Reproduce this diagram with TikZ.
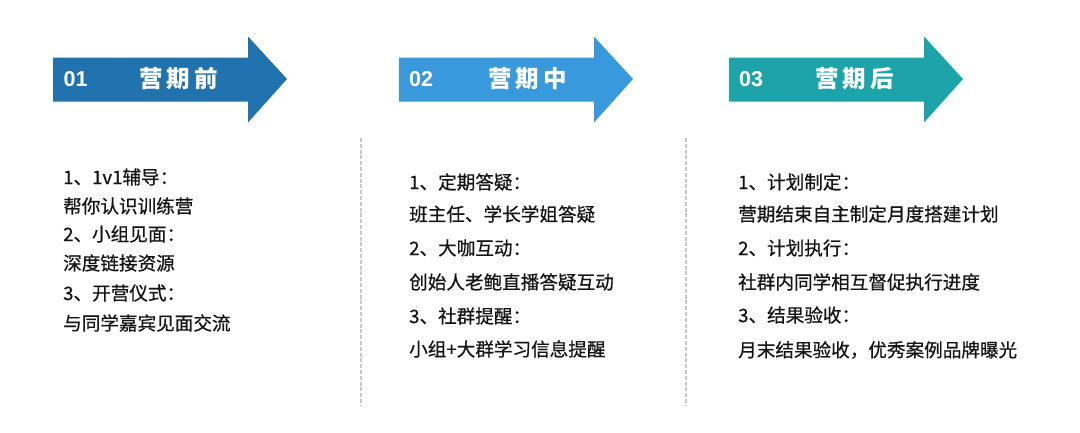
\documentclass[tikz,border=0pt]{standalone}
\usepackage{fontspec}
\setmainfont{Liberation Sans}
\newfontfamily\cjk{Noto Sans CJK SC}
\newfontfamily\cjkfb[FakeBold=0.6]{Noto Sans CJK SC}
\definecolor{cA}{RGB}{33,115,175}
\definecolor{cB}{RGB}{56,153,220}
\definecolor{cC}{RGB}{29,164,170}
\definecolor{txt}{RGB}{20,20,20}
\definecolor{sep}{RGB}{200,200,200}
\tikzset{
  numtxt/.style={font=\fontsize{21.5}{21.5}\selectfont\bfseries, text=white, inner sep=0pt, anchor=west},
  headtxt/.style={font=\cjk\fontsize{23.5}{23.5}\selectfont\bfseries, text=white, inner sep=0pt, anchor=west},
  bodytxt/.style={font=\cjkfb\fontsize{18.6}{18.6}\selectfont, text=txt, inner sep=0pt, anchor=west},
  sepline/.style={draw=sep, line width=1.6pt, dash pattern=on 4pt off 1.8pt}
}
\newcommand{\bigarrow}[3]{%
  \fill[#3] (#1,#2-21.5) -- (#1+195,#2-21.5) -- (#1+195,#2-42.5) -- (#1+234,#2) -- (#1+195,#2+43.5) -- (#1+195,#2+22.5) -- (#1,#2+22.5) -- cycle;}
\begin{document}
\begin{tikzpicture}[x=1pt,y=-1pt]
\useasboundingbox (0,0) rectangle (1080,432);
\fill[white] (0,0) rectangle (1080,432);
% arrows
\bigarrow{53}{79}{cA}
\bigarrow{399}{79}{cB}
\bigarrow{729}{79}{cC}
\node[numtxt] (n1) at (63.5,79) {01};
\node[headtxt] (h1) at (139,79) {营\hspace{4pt}期\hspace{4pt}前};
\node[numtxt] (n2) at (409,79) {02};
\node[headtxt] (h2) at (488,79) {营\hspace{4pt}期\hspace{4pt}中};
\node[numtxt] (n3) at (739,79) {03};
\node[headtxt] (h3) at (815,79) {营\hspace{4pt}期\hspace{4pt}后};
% separators
\coordinate (s1a) at (361,138); \coordinate (s1b) at (361,405);
\coordinate (s2a) at (686,138); \coordinate (s2b) at (686,405);
\draw[sepline] (s1a) -- (s1b);
\draw[sepline] (s2a) -- (s2b);
% column 1
\node[bodytxt] (a1) at (63,177) {1、1v1辅导：};
\node[bodytxt] (a2) at (63,206) {帮你认识训练营};
\node[bodytxt] (a3) at (63,234) {2、小组见面：};
\node[bodytxt] (a4) at (63,263) {深度链接资源};
\node[bodytxt] (a5) at (63,293) {3、开营仪式：};
\node[bodytxt] (a6) at (63,323) {与同学嘉宾见面交流};
% column 2
\node[bodytxt] (b1) at (409,182) {1、定期答疑：};
\node[bodytxt] (b2) at (409,214) {班主任、学长学姐答疑};
\node[bodytxt] (b3) at (409,248) {2、大咖互动：};
\node[bodytxt] (b4) at (409,282) {创始人老鲍直播答疑互动};
\node[bodytxt] (b5) at (409,316) {3、社群提醒：};
\node[bodytxt] (b6) at (409,349) {小组+大群学习信息提醒};
% column 3
\node[bodytxt] (c1) at (738,182) {1、计划制定：};
\node[bodytxt] (c2) at (738,214) {营期结束自主制定月度搭建计划};
\node[bodytxt] (c3) at (738,248) {2、计划执行：};
\node[bodytxt] (c4) at (738,282) {社群内同学相互督促执行进度};
\node[bodytxt] (c5) at (738,315) {3、结果验收：};
\node[bodytxt] (c6) at (738,350) {月末结果验收，优秀案例品牌曝光};
\end{tikzpicture}
\end{document}
